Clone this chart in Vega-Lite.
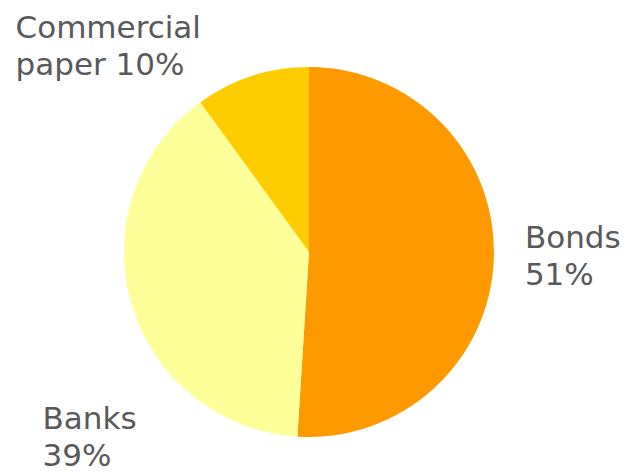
{
  "$schema": "https://vega.github.io/schema/vega-lite/v6.json",
  "width": 370,
  "height": 370,
  "autosize": "none",
  "padding": {"left": 124, "top": 67, "right": 134, "bottom": 37},
  "background": "white",
  "config": {"view": {"stroke": null}},
  "data": {
    "values": [
      {"category": "Bonds", "value": 51, "label": "Bonds\n51%"},
      {"category": "Banks", "value": 39, "label": "Banks\n39%"},
      {"category": "Commercial paper", "value": 10, "label": "Commercial\npaper 10%"}
    ]
  },
  "encoding": {
    "theta": {"field": "value", "type": "quantitative", "stack": true},
    "order": {"field": "value", "type": "quantitative", "sort": "descending"}
  },
  "layer": [
    {
      "mark": {"type": "arc"},
      "encoding": {
        "color": {
          "field": "category",
          "type": "nominal",
          "scale": {"domain": ["Bonds", "Banks", "Commercial paper"], "range": ["#FF9900", "#FFFF99", "#FFCC00"]},
          "legend": null
        }
      }
    },
    {
      "mark": {"type": "text", "font": "DejaVu Sans", "fontSize": 31, "color": "#595959", "align": "left", "baseline": "alphabetic", "lineBreak": "\n", "lineHeight": 37, "dx": 1, "dy": -11},
      "encoding": {
        "radius": {"value": 215},
        "text": {"condition": {"test": "datum.category === 'Bonds'", "field": "label"}, "value": ""}
      }
    },
    {
      "mark": {"type": "text", "font": "DejaVu Sans", "fontSize": 31, "color": "#595959", "align": "left", "baseline": "alphabetic", "lineBreak": "\n", "lineHeight": 37, "dx": -60, "dy": 117},
      "encoding": {
        "radius": {"value": 215},
        "text": {"condition": {"test": "datum.category === 'Banks'", "field": "label"}, "value": ""}
      }
    },
    {
      "mark": {"type": "text", "font": "DejaVu Sans", "fontSize": 31, "color": "#595959", "align": "left", "baseline": "alphabetic", "lineBreak": "\n", "lineHeight": 37, "dx": -227, "dy": -10},
      "encoding": {
        "radius": {"value": 215},
        "text": {"condition": {"test": "datum.category === 'Commercial paper'", "field": "label"}, "value": ""}
      }
    }
  ]
}
